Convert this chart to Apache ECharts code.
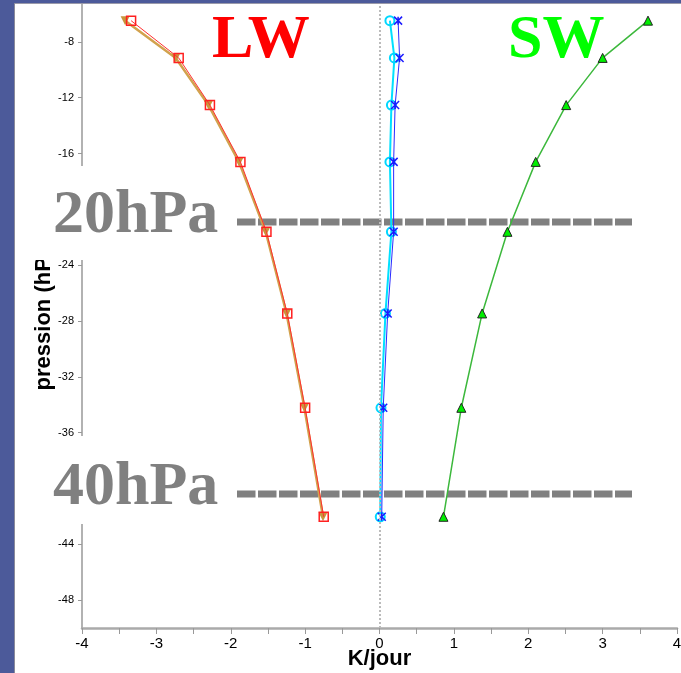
<!DOCTYPE html>
<html>
<head>
<meta charset="utf-8">
<script src="https://cdn.jsdelivr.net/npm/echarts@6/dist/echarts.min.js"></script>
<style>
html,body{margin:0;padding:0;background:#fff;}
#c{width:681px;height:673px;}
</style>
</head>
<body>
<div id="c"></div>
<script>
// ---- data ----
var levels   = [-6.48, -9.15, -12.53, -16.60, -21.61, -27.46, -34.22, -42.03];
var lwRed    = [-3.34, -2.70, -2.28, -1.87, -1.52, -1.24, -1.00, -0.75];
var lwTan    = [-3.42, -2.74, -2.30, -1.89, -1.53, -1.25, -1.01, -0.76];
var midCyan  = [0.14, 0.20, 0.16, 0.14, 0.16, 0.08, 0.02, 0.01];
var midBlue  = [0.25, 0.27, 0.21, 0.19, 0.19, 0.11, 0.05, 0.03];
var swGreen  = [3.61, 3.00, 2.51, 2.10, 1.72, 1.38, 1.10, 0.86];
var xLabels  = [-4, -3, -2, -1, 0, 1, 2, 3, 4];
var xTicks   = [-4, -3.5, -3, -2.5, -2, -1.5, -1, -0.5, 0, 0.5, 1, 1.5, 2, 2.5, 3, 3.5, 4];
var yLabels  = [-8, -12, -16, -20, -24, -28, -32, -36, -40, -44, -48];

function pairs(xs){ return xs.map(function(v,i){ return [v, levels[i]]; }); }

var FONT = '"Liberation Sans", Arial, Helvetica, sans-serif';
var chart = echarts.init(document.getElementById('c'), null, {renderer:'canvas'});
var asterisk = 'path://M0,0L10,10M10,0L0,10M5,0L5,10';
var SERIF = 'bold 62px "Liberation Serif", "Times New Roman", serif';

chart.setOption({
  animation:false,
  backgroundColor:'#fff',
  grid:{left:82, right:4, top:0, bottom:45, containLabel:false, outerBoundsMode:'none'},
  xAxis:{
    type:'value', min:-4, max:4,
    name:'K/jour', nameLocation:'middle', nameGap:20, nameMoveOverlap:false,
    nameTextStyle:{fontFamily:FONT, fontWeight:'bold', fontSize:22, color:'#000'},
    axisLine:{show:true, onZero:false, lineStyle:{color:'#aaa', width:2.5}},
    axisTick:{show:true, customValues:xTicks, length:6, lineStyle:{color:'#999', width:1}},
    axisLabel:{customValues:xLabels, margin:8, fontFamily:FONT, fontSize:15, color:'#000'},
    splitLine:{show:false}
  },
  yAxis:{
    type:'value', min:-50, max:-5,
    name:'pression (hPa)', nameLocation:'middle', nameGap:27, nameMoveOverlap:false,
    nameTextStyle:{fontFamily:FONT, fontWeight:'bold', fontSize:22, color:'#000'},
    axisLine:{show:true, onZero:false, lineStyle:{color:'#999', width:1.5}},
    axisTick:{show:true, customValues:yLabels, length:4, lineStyle:{color:'#999'}},
    axisLabel:{customValues:yLabels, margin:8, fontFamily:FONT, fontSize:11, color:'#000'},
    splitLine:{show:false}
  },
  series:[
    {type:'line', data:pairs(lwTan), symbol:'triangle', symbolRotate:180, symbolSize:9,
     lineStyle:{color:'#d2a24e', width:2.5}, itemStyle:{color:'#c8963c'}, z:3},
    {type:'line', data:pairs(lwRed), symbol:'rect', symbolSize:9,
     lineStyle:{color:'#ff3030', width:1}, itemStyle:{color:'transparent', borderColor:'#ff2020', borderWidth:1.5}, z:4},
    {type:'line', data:pairs(midCyan), symbol:'circle', symbolSize:9,
     lineStyle:{color:'#00e0ff', width:2}, itemStyle:{color:'transparent', borderColor:'#00d8ff', borderWidth:2}, z:3,
     markLine:{silent:true, symbol:'none', label:{show:false},
       lineStyle:{type:'dotted', color:'#bbb', width:2}, data:[{xAxis:0}]}},
    {type:'line', data:pairs(midBlue), symbol:asterisk, symbolSize:8,
     lineStyle:{color:'#2a2aff', width:1}, itemStyle:{color:'none', borderColor:'#1a1aff', borderWidth:1.5}, z:4},
    {type:'line', data:pairs(swGreen), symbol:'triangle', symbolSize:9,
     lineStyle:{color:'#3cb83c', width:1.5}, itemStyle:{color:'#00ee00', borderColor:'#222', borderWidth:1}, z:4}
  ],
  graphic:[
    {type:'rect', shape:{x:0,y:0,width:14,height:673}, style:{fill:'#4c5a9a'}, z:200},
    {type:'rect', shape:{x:14,y:0,width:1,height:673}, style:{fill:'#8a8a9a'}, z:200},
    {type:'rect', shape:{x:0,y:0,width:681,height:3}, style:{fill:'#4c5a9a'}, z:200},
    {type:'rect', shape:{x:15,y:3,width:666,height:1}, style:{fill:'#9a9aaa'}, z:200},
    // annotation boxes
    {type:'rect', shape:{x:34,y:166,width:198,height:94}, style:{fill:'#fff'}, z:100},
    {type:'rect', shape:{x:34,y:436,width:198,height:88}, style:{fill:'#fff'}, z:100},
    {type:'text', x:53, y:216, z:101, style:{text:'20hPa', font:SERIF, fill:'#808080', verticalAlign:'middle', align:'left'}},
    {type:'text', x:53, y:488, z:101, style:{text:'40hPa', font:SERIF, fill:'#808080', verticalAlign:'middle', align:'left'}},
    {type:'line', shape:{x1:237,y1:222,x2:632,y2:222}, style:{stroke:'#808080', lineWidth:7, lineDash:[18.5,2.5]}, z:1},
    {type:'line', shape:{x1:237,y1:494,x2:632,y2:494}, style:{stroke:'#808080', lineWidth:7, lineDash:[18.5,2.5]}, z:1},
    {type:'text', x:212, y:41, z:101, style:{text:'LW', font:SERIF, fill:'#ff0000', verticalAlign:'middle', align:'left'}},
    {type:'text', x:508, y:41, z:101, style:{text:'SW', font:SERIF, fill:'#00ff00', verticalAlign:'middle', align:'left'}}
  ]
});
</script>
</body>
</html>
